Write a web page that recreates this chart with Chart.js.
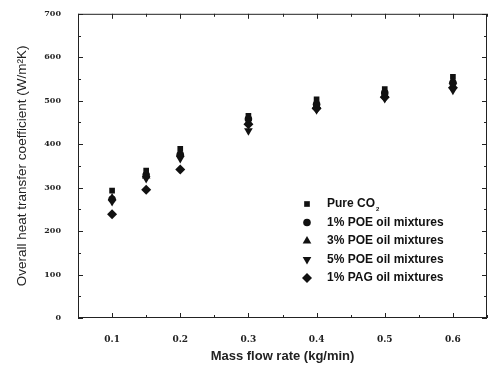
<!DOCTYPE html>
<html><head><meta charset="utf-8">
<script src="https://cdn.jsdelivr.net/npm/chart.js@4"></script>
<style>html,body{margin:0;padding:0;background:#fff}#wrap{width:492px;height:368px}</style>
</head><body><div id="wrap"><canvas id="c" width="492" height="368"></canvas></div>
<script>
const massFlow = [0.1, 0.15, 0.2, 0.3, 0.4, 0.5, 0.6];
const pureCO2 = [293, 339, 389, 465, 503, 527, 555];
const poe1 = [273, 329, 376, 458, 492, 518, 541];
const poe3 = [276, 327, 378, 450, 489, 514, 545];
const poe5 = [268, 321, 367, 431, 479, 505, 524];
const pag1 = [239, 295, 342, 446, 482, 508, 530];
const xTicks = [0.1, 0.2, 0.3, 0.4, 0.5, 0.6];
const yTicks = [0, 100, 200, 300, 400, 500, 600, 700];
const xMinor = [0.05, 0.15, 0.25, 0.35, 0.45, 0.55, 0.65];
const yMinor = [50, 150, 250, 350, 450, 550, 650];

function pts(arr){ return massFlow.map((x,i)=>({x:x,y:arr[i]})); }
const series = [
  {label:'Pure CO\u2082', data:pureCO2, style:'rect', r:4},
  {label:'1% POE oil mixtures', data:poe1, style:'circle', r:3.8},
  {label:'3% POE oil mixtures', data:poe3, style:'triangle', r:5},
  {label:'5% POE oil mixtures', data:poe5, style:'triangle', r:5, rot:180},
  {label:'1% PAG oil mixtures', data:pag1, style:'rectRot', r:5}
];

const frame = {
  id:'frame',
  afterDraw(chart){
    const ctx = chart.ctx, a = chart.chartArea;
    const xs = chart.scales.x, ys = chart.scales.y;
    ctx.save();
    ctx.strokeStyle = '#222'; ctx.lineWidth = 1;
    ctx.strokeRect(a.left+0.5, a.top+0.5, a.right-a.left-1, a.bottom-a.top-1);
    ctx.beginPath();
    const tick = (v, len, isX) => {
      if (isX) {
        const p = Math.round(xs.getPixelForValue(v))+0.5;
        ctx.moveTo(p, a.bottom); ctx.lineTo(p, a.bottom-len);
        ctx.moveTo(p, a.top); ctx.lineTo(p, a.top+len);
      } else {
        const p = Math.round(ys.getPixelForValue(v))+0.5;
        ctx.moveTo(a.left, p); ctx.lineTo(a.left+len, p);
        ctx.moveTo(a.right, p); ctx.lineTo(a.right-len, p);
      }
    };
    xTicks.forEach(v=>tick(v,5,true));
    xMinor.forEach(v=>tick(v,3,true));
    yTicks.forEach(v=>tick(v,5,false));
    yMinor.forEach(v=>tick(v,3,false));
    ctx.stroke();
    // legend
    const lx = 307, tx = 327;
    let ly = 204;
    ctx.textBaseline = 'middle';
    const f = 'bold 12px "Liberation Sans", Arial, sans-serif';
    ctx.font = f;
    ctx.fillStyle = '#111';
    series.forEach((s)=>{
      Chart.helpers.drawPoint(ctx, {pointStyle:s.style, radius:s.r, rotation:s.rot||0, borderWidth:0}, lx, ly);
      ctx.fillStyle = '#111';
      if (s.style === 'rect') {
        ctx.fillText('Pure CO', tx, ly);
        const w = ctx.measureText('Pure CO').width;
        ctx.font = 'bold 6px "Liberation Sans", Arial, sans-serif';
        ctx.fillText('2', tx+w+1, ly+5);
        ctx.font = f;
      } else {
        ctx.fillText(s.label, tx, ly);
      }
      ly += 18.5;
    });
    ctx.restore();
  }
};

new Chart(document.getElementById('c'), {
  type:'scatter',
  data:{ datasets: series.map(s=>({
    label:s.label, data:pts(s.data), pointStyle:s.style, pointRadius:s.r,
    rotation:s.rot||0, backgroundColor:'#111', borderColor:'#111', borderWidth:0
  }))},
  options:{
    responsive:false, animation:false, devicePixelRatio:1,
    layout:{padding:{top:10, right:5, left:0, bottom:0}},
    plugins:{legend:{display:false}, tooltip:{enabled:false}},
    scales:{
      x:{type:'linear', min:0.05, max:0.65,
        afterBuildTicks(s){ s.ticks = xTicks.map(v=>({value:v})); },
        afterFit(s){ s.height = 50; },
        grid:{display:false}, border:{display:false},
        ticks:{padding:8, color:'#222', font:{family:'"DejaVu Serif", serif', size:9, weight:'bold'},
          callback:v=>v.toFixed(1)},
        title:{display:true, text:'Mass flow rate (kg/min)', color:'#222', padding:{top:6},
          font:{family:'"Liberation Sans", Arial, sans-serif', size:13, weight:'bold'}}
      },
      y:{type:'linear', min:0, max:700,
        afterBuildTicks(s){ s.ticks = yTicks.map(v=>({value:v})); },
        afterFit(s){ s.width = 78; },
        grid:{display:false}, border:{display:false},
        ticks:{padding:9, color:'#222', font:{family:'"DejaVu Serif", serif', size:8, weight:'bold'}},
        title:{display:true, text:'Overall heat transfer coefficient (W/m\u00B2K)', color:'#222', padding:{top:14, bottom:6},
          font:{family:'"Liberation Sans", Arial, sans-serif', size:13.5, weight:'normal'}}
      }
    }
  },
  plugins:[frame]
});
</script></body></html>
